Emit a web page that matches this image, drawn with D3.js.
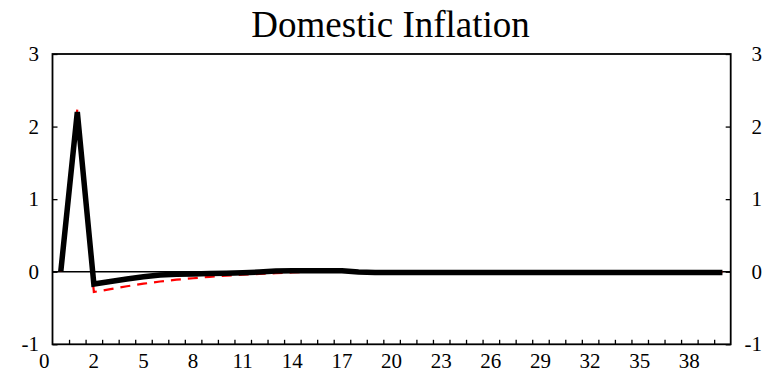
<!DOCTYPE html>
<html>
<head>
<meta charset="utf-8">
<script src="https://cdn.jsdelivr.net/npm/d3@7"></script>
<style>
  html, body { margin: 0; padding: 0; background: #fff; }
  svg { display: block; }
  text { font-family: "Liberation Serif", "Times New Roman", serif; fill: #000; }
</style>
</head>
<body>
<svg id="chart" width="765" height="373"></svg>
<script>
// ---- data ----
const title = "Domestic Inflation";
const periods = d3.range(0, 41); // 0..40
const seriesBlack = [0, 2.20, -0.17, -0.135, -0.10, -0.07, -0.045, -0.035, -0.03, -0.025, -0.02,
  -0.015, -0.005, 0.01, 0.015, 0.015, 0.015, 0.012, -0.005, -0.01, -0.01,
  -0.01, -0.01, -0.01, -0.01, -0.01, -0.01, -0.01, -0.01, -0.01, -0.01,
  -0.01, -0.01, -0.01, -0.01, -0.01, -0.01, -0.01, -0.01, -0.01, -0.01];
const seriesRed = [0, 2.24, -0.28, -0.24, -0.20, -0.165, -0.135, -0.11, -0.09, -0.07, -0.055,
  -0.04, -0.03, -0.02, -0.01, 0.0, 0.005, 0.005, 0.005, 0.005, 0.0,
  -0.005, -0.005, -0.005, -0.005, -0.005, -0.005, -0.005, -0.005, -0.005, -0.005,
  -0.005, -0.005, -0.005, -0.005, -0.005, -0.005, -0.005, -0.005, -0.005, -0.005];
const xTickPositions = d3.range(0.5, 40, 1);           // minor tick marks
const xLabelPositions = [-1, 2, 5, 8, 11, 14, 17, 20, 23, 26, 29, 32, 35, 38];
const xLabelTexts = ["0", "2", "5", "8", "11", "14", "17", "20", "23", "26", "29", "32", "35", "38"];
const yTicks = [-1, 0, 1, 2, 3];

// ---- layout ----
const svg = d3.select("#chart");
const pL = 52.5, pR = 730.7, pT = 54, pB = 344.3;
const x = d3.scaleLinear().domain([-0.5, 40.5]).range([pL, pR]);
const y = d3.scaleLinear().domain([-1, 3]).range([pB, pT]);

// title
svg.append("text").attr("x", (pL + pR) / 2 - 1).attr("y", 37)
  .attr("text-anchor", "middle").style("font-size", "37px").text(title);

// zero line
svg.append("line").attr("x1", pL).attr("x2", pR)
  .attr("y1", y(0)).attr("y2", y(0)).attr("stroke", "#000").attr("stroke-width", 1.4);

// series
const line = d3.line().x((d, i) => x(periods[i])).y(d => y(d));
svg.append("path").datum(seriesRed).attr("d", line)
  .attr("fill", "none").attr("stroke", "#ff0000").attr("stroke-width", 2.2)
  .attr("stroke-dasharray", "10,7");
svg.append("path").datum(seriesBlack).attr("d", line)
  .attr("fill", "none").attr("stroke", "#000").attr("stroke-width", 5.5)
  .attr("stroke-linejoin", "miter");

// frame
svg.append("rect").attr("x", pL).attr("y", pT)
  .attr("width", pR - pL).attr("height", pB - pT)
  .attr("fill", "none").attr("stroke", "#000").attr("stroke-width", 1.8);

// bottom axis: inward ticks, labels
const xAxis = d3.axisBottom(x).tickValues(xTickPositions).tickSizeInner(-4.5).tickSizeOuter(0).tickFormat("");
const gx = svg.append("g").attr("transform", `translate(0,${pB})`).call(xAxis);
gx.select(".domain").remove();
gx.selectAll(".tick line").attr("stroke", "#000").attr("stroke-width", 1.3);

svg.append("g").selectAll("text").data(xLabelPositions).join("text")
  .attr("x", d => x(d)).attr("y", 367.5)
  .attr("text-anchor", "middle").style("font-size", "21px")
  .text((d, i) => xLabelTexts[i]);

// left axis
const yLeft = d3.axisLeft(y).tickValues(yTicks).tickSizeInner(-5).tickSizeOuter(0).tickFormat("");
const gl = svg.append("g").attr("transform", `translate(${pL},0)`).call(yLeft);
gl.select(".domain").remove();
gl.selectAll(".tick line").attr("stroke", "#000").attr("stroke-width", 1.3);
svg.append("g").selectAll("text").data(yTicks).join("text")
  .attr("x", 39).attr("y", d => y(d)).attr("dy", "0.34em")
  .attr("text-anchor", "end").style("font-size", "21px").text(d => d);

// right axis
const yRight = d3.axisRight(y).tickValues(yTicks).tickSizeInner(-5).tickSizeOuter(0).tickFormat("");
const gr = svg.append("g").attr("transform", `translate(${pR},0)`).call(yRight);
gr.select(".domain").remove();
gr.selectAll(".tick line").attr("stroke", "#000").attr("stroke-width", 1.3);
svg.append("g").selectAll("text").data(yTicks).join("text")
  .attr("x", 762).attr("y", d => y(d)).attr("dy", "0.34em")
  .attr("text-anchor", "end").style("font-size", "21px").text(d => d);
</script>
</body>
</html>
